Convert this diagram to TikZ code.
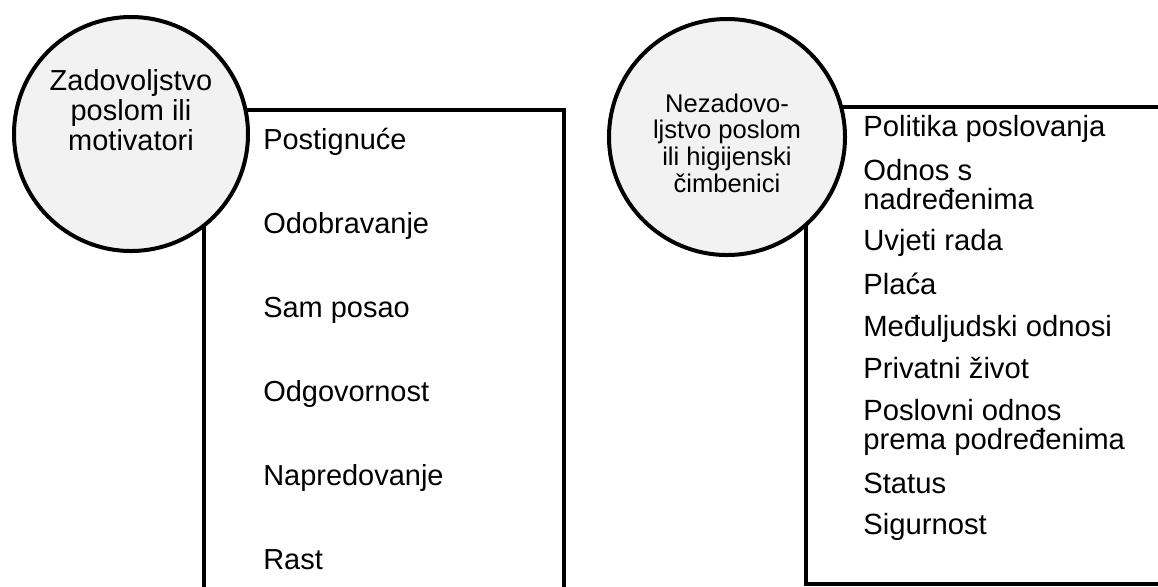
\documentclass[tikz,border=0pt]{standalone}
\usepackage{fontspec}
\setmainfont{Liberation Sans}
\tikzset{
  factorcircle/.style={circle, draw, line width=1mm, fill=gray!10, minimum size=5.88cm, inner sep=0pt},
  circletext/.style={align=center, inner sep=0pt},
  factorbox/.style={line width=1mm},
  motivitem/.style={anchor=base west, inner sep=0pt, font=\fontsize{20.6}{24.6}\selectfont},
  hygitem/.style={anchor=base west, align=left, inner sep=0pt, font=\fontsize{20.8}{20.6}\selectfont}
}
\begin{document}
\begin{tikzpicture}
  \useasboundingbox (0,0) rectangle (28.95,-14.65);
  \clip (0,0) rectangle (28.95,-14.65);

  % motivatori
  \draw[factorbox] (5.1,-15) -- (5.1,-2.75) -- (14.1,-2.75) -- (14.1,-15);
  \node[factorcircle, minimum size=5.85cm] (motiv) at (3.275,-3.35) {};
  \node[circletext, font=\fontsize{20.6}{21.3}\selectfont] (motivtxt) at (3.275,-2.75)
    {Zadovoljstvo\\poslom ili\\motivatori};
  \node[motivitem] (postig) at (6.575,-3.725) {Postignuće};
  \node[motivitem] (odobr) at (6.575,-5.825) {Odobravanje};
  \node[motivitem] (posao) at (6.575,-7.925) {Sam posao};
  \node[motivitem] (odgov) at (6.575,-10.025) {Odgovornost};
  \node[motivitem] (napred) at (6.575,-12.125) {Napredovanje};
  \node[motivitem] (rast) at (6.575,-14.225) {Rast};

  % higijenski cimbenici
  \draw[factorbox] (20.15,-2.675) -- (29.5,-2.675) (20.15,-2.675) -- (20.15,-14.6) -- (29.5,-14.6);
  \node[factorcircle, minimum size=5.9cm] (hyg) at (18.175,-3.425) {};
  \node[circletext, font=\fontsize{18.2}{19}\selectfont] (hygtxt) at (18.175,-3.58)
    {Nezadovo-\\ljstvo poslom\\ili higijenski\\čimbenici};
  \node[hygitem] (politika) at (21.575,-3.4) {Politika poslovanja};
  \node[hygitem] (nadred) at (21.575,-5.225) {Odnos s\\nadređenima};
  \node[hygitem] (uvjeti) at (21.575,-6.25) {Uvjeti rada};
  \node[hygitem] (placa) at (21.575,-7.35) {Plaća};
  \node[hygitem] (meduljud) at (21.575,-8.4) {Međuljudski odnosi};
  \node[hygitem] (privat) at (21.575,-9.45) {Privatni život};
  \node[hygitem] (podred) at (21.575,-11.225) {Poslovni odnos\\prema podređenima};
  \node[hygitem] (status) at (21.575,-12.325) {Status};
  \node[hygitem] (sigur) at (21.575,-13.35) {Sigurnost};
\end{tikzpicture}
\end{document}
